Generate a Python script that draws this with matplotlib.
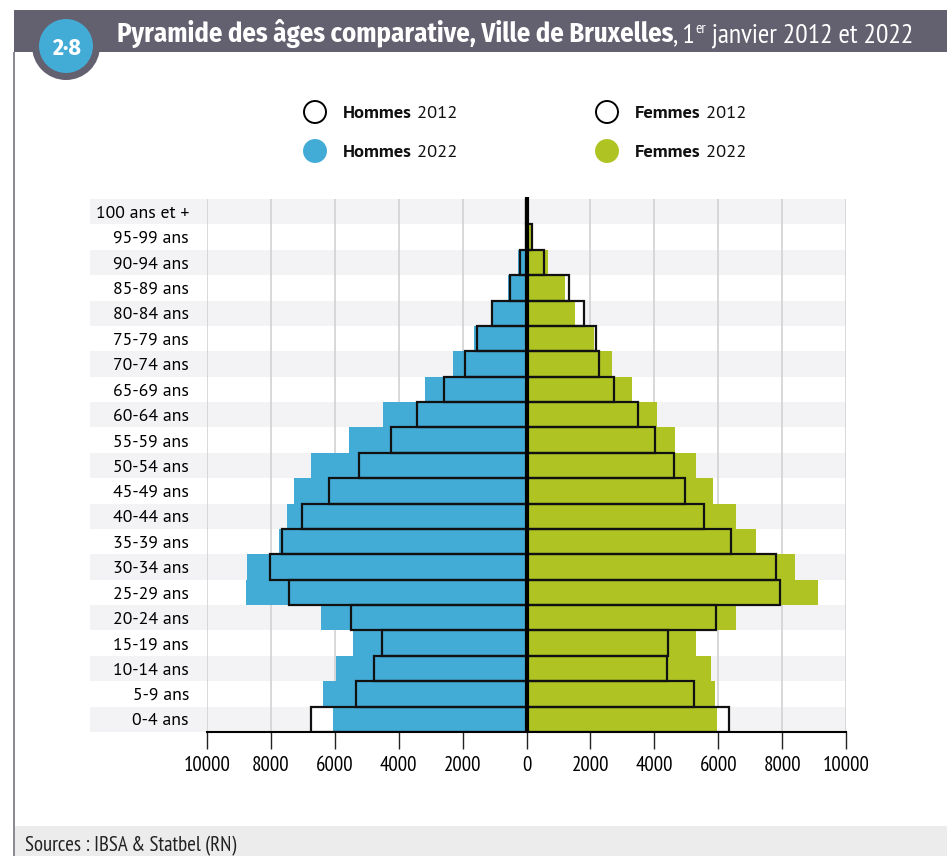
import matplotlib
matplotlib.use("Agg")
import matplotlib.pyplot as plt
from matplotlib.patches import Rectangle, Circle
from matplotlib.transforms import IdentityTransform, blended_transform_factory

# data
ages = ["0-4 ans", "5-9 ans", "10-14 ans", "15-19 ans", "20-24 ans", "25-29 ans",
        "30-34 ans", "35-39 ans", "40-44 ans", "45-49 ans", "50-54 ans", "55-59 ans",
        "60-64 ans", "65-69 ans", "70-74 ans", "75-79 ans", "80-84 ans", "85-89 ans",
        "90-94 ans", "95-99 ans", "100 ans et +"]
hommes_2012 = [6740, 5340, 4760, 4530, 5480, 7430, 8040, 7660, 7040, 6170, 5240, 4230,
               3420, 2580, 1930, 1540, 1065, 530, 190, 30, 5]
hommes_2022 = [6060, 6380, 5970, 5440, 6440, 8780, 8750, 7740, 7500, 7280, 6750, 5560,
               4480, 3190, 2310, 1650, 1060, 580, 260, 45, 5]
femmes_2012 = [6350, 5240, 4400, 4430, 5940, 7920, 7810, 6410, 5540, 4970, 4620, 4030,
               3480, 2740, 2280, 2160, 1800, 1340, 560, 175, 20]
femmes_2022 = [5950, 5890, 5760, 5290, 6570, 9130, 8390, 7170, 6570, 5850, 5290, 4660,
               4100, 3310, 2670, 2120, 1510, 1200, 660, 210, 25]
xticks = [-10000, -8000, -6000, -4000, -2000, 0, 2000, 4000, 6000, 8000, 10000]

BLUE = "#43acd6"
GREEN = "#afc423"
HEADER = "#63606f"
BAND = "#f3f3f5"

W, H = 947, 856
BODY = ["PT Sans", "Noto Sans", "DejaVu Sans"]
NARROW = ["PT Sans Narrow", "Roboto Condensed", "Noto Sans", "DejaVu Sans"]
TITLE = ["Fira Sans Condensed", "Roboto Condensed", "Roboto", "DejaVu Sans"]

fig = plt.figure(figsize=(W / 100, H / 100), dpi=100)
px = IdentityTransform()


def P(x, y):
    # pixel coords from top-left -> display coords
    return x, H - y


ax = fig.add_axes([207 / W, (H - 732) / H, (846 - 207) / W, (732 - 199) / H])
ax.set_xlim(-10000, 10000)
ax.set_ylim(-0.5, len(ages) - 0.5)

# alternate row bands, reaching into the label area
bt = blended_transform_factory(fig.transFigure, ax.transData)
for i in range(len(ages)):
    if i % 2 == 0:
        ax.add_patch(Rectangle((90 / W, i - 0.5), (846 - 90) / W, 1, transform=bt,
                               facecolor=BAND, edgecolor="none", zorder=0, clip_on=False))

for x in xticks:
    if x != 0:
        ax.axvline(x, color="#d2d2d2", lw=1.2, zorder=1)

y = list(range(len(ages)))
neg_h12 = [-v for v in hommes_2012]
neg_h22 = [-v for v in hommes_2022]

# 2012 white fill under, 2022 colour, 2012 outline on top
ax.barh(y, neg_h12, height=1.0, color="white", zorder=2)
ax.barh(y, femmes_2012, height=1.0, color="white", zorder=2)
ax.barh(y, neg_h22, height=1.0, color=BLUE, zorder=3)
ax.barh(y, femmes_2022, height=1.0, color=GREEN, zorder=3)
ax.barh(y, neg_h12, height=1.0, facecolor="none", edgecolor="#111111", lw=1.6, zorder=4)
ax.barh(y, femmes_2012, height=1.0, facecolor="none", edgecolor="#111111", lw=1.6, zorder=4)

ax.plot([0, 0], [-0.5, len(ages) - 0.42], color="black", lw=3, zorder=5,
        solid_capstyle="butt", clip_on=False)

for s in ["top", "left", "right"]:
    ax.spines[s].set_visible(False)
ax.spines["bottom"].set_linewidth(1.5)
ax.spines["bottom"].set_zorder(6)
ax.set_xticks(xticks)
ax.set_xticklabels([str(abs(v)) for v in xticks], family=NARROW, fontsize=15)
ax.tick_params(axis="x", direction="out", length=12, width=1, color="#222222", pad=5)
ax.set_yticks(y)
ax.set_yticklabels(ages, family=BODY, fontsize=12.8)
ax.tick_params(axis="y", length=0, pad=13)

# header band, badge and left border
fig.add_artist(Rectangle(P(14, 52), W - 14, 42, transform=px, facecolor=HEADER,
                         edgecolor="none", zorder=0))
fig.add_artist(Rectangle(P(13, H), 2, H - 52, transform=px, facecolor="#8c8a94",
                         edgecolor="none", zorder=0))
fig.add_artist(Rectangle(P(15, H), W - 15, 30, transform=px, facecolor="#ececec",
                         edgecolor="none", zorder=0))
fig.add_artist(Circle(P(66, 46), 34, transform=px, facecolor=HEADER, edgecolor="none", zorder=2))
fig.add_artist(Circle(P(66, 46), 27, transform=px, facecolor=BLUE, edgecolor="none", zorder=3))
fig.text(*P(66, 48), "2·8", transform=px, color="white", fontsize=17, fontweight="bold",
         family=TITLE, ha="center", va="center", zorder=4)

renderer = fig.canvas.get_renderer()


def runs(x, y, parts, **kw):
    # draw text pieces one after another on the same baseline
    for txt, opts in parts:
        o = dict(kw)
        o.update(opts)
        dy = o.pop("dy", 0)
        t = fig.text(x, H - y + dy, txt, transform=px, va="baseline", **o)
        x = t.get_window_extent(renderer).x1
    return x


runs(117, 42, [("Pyramide des âges comparative, Ville de Bruxelles", dict(fontweight="bold", fontsize=19.2, family=TITLE)),
               (", 1", dict(fontsize=20, family=NARROW)),
               ("er", dict(fontsize=11, family=NARROW, dy=9)),
               (" janvier 2012 et 2022", dict(fontsize=20, family=NARROW))],
     color="white", zorder=4)

# legend
for cx, cy, fc, who, yr in [(315, 112, "white", "Hommes", "2012"),
                            (315, 151, BLUE, "Hommes", "2022"),
                            (607, 112, "white", "Femmes", "2012"),
                            (607, 151, GREEN, "Femmes", "2022")]:
    ec = "black" if fc == "white" else fc
    fig.add_artist(Circle(P(cx, cy), 11, transform=px, facecolor=fc, edgecolor=ec, lw=1.4))
    runs(cx + 28, cy + 6, [(who, dict(fontweight="bold")), (" " + yr, {})],
         fontsize=13.3, family=BODY, color="#111111")

fig.text(*P(25, 851), "Sources : IBSA & Statbel (RN)", transform=px, fontsize=15,
         family=NARROW, color="#222222", va="baseline")

fig.savefig("out.png", dpi=100)
